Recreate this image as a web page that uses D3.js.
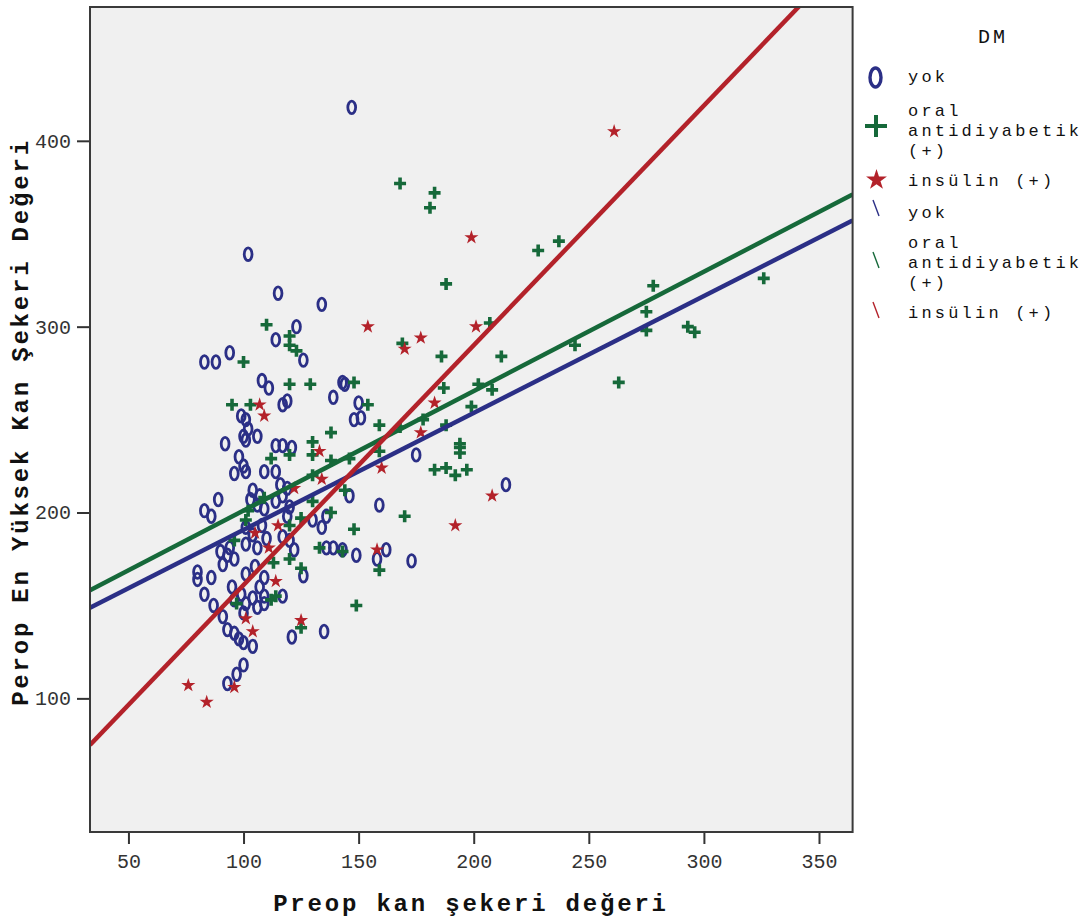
<html lang="en">
<head>
<meta charset="UTF-8">
<style>
  body { margin:0; background:#fff; }
  svg text { font-family: "Liberation Mono", "DejaVu Sans Mono", monospace; }
</style>
</head>
<body>
<div id="chart"></div>
<script src="https://d3js.org/d3.v7.min.js"></script>
<script>
// groups (DM)
const groups = ["yok", "oral antidiyabetik (+)", "insülin (+)"];
const colors = ["#2b2f86", "#16693a", "#b3222a"];

// x = Preop kan şekeri, y = Perop en yüksek kan şekeri
const yok = [[147,418],[102,339],[115,318],[134,312],[123,300],[114,293],[126,282],[83,281],[88,281],[94,286],
  [108,271],[111,267],[143,270],[144,269],[139,262],[119,260],[117,258],[150,259],[148,250],[151,251],
  [99,252],[101,250],[102,245],[100,241],[106,241],[101,239],[92,237],[114,236],[117,236],[121,235],
  [98,230],[100,225],[101,222],[96,221],[109,222],[114,222],[89,207],[83,201],[86,198],[104,212],
  [107,209],[103,207],[106,204],[109,202],[116,215],[119,213],[117,209],[114,206],[120,203],[119,198],
  [146,209],[159,204],[130,196],[134,192],[136,198],[90,179],[93,177],[96,175],[91,172],[94,181],
  [101,183],[106,181],[122,180],[136,181],[139,181],[143,180],[149,177],[162,180],[158,175],[80,168],
  [80,164],[86,165],[83,156],[87,150],[101,167],[105,171],[109,165],[107,160],[109,155],[104,154],
  [106,149],[109,151],[95,160],[99,156],[96,153],[101,151],[100,146],[126,166],[117,155],[91,144],
  [93,137],[96,135],[98,132],[100,130],[104,128],[121,133],[135,136],[100,118],[97,113],[93,108],
  [175,231],[214,215],[173,174],[101,192],[104,188],[108,193],[110,186],[117,187],[120,185]];

const oral = [[110,301],[120,295],[120,290],[123,287],[100,281],[120,269],[129,269],[148,270],[95,258],[103,258],
  [154,258],[159,247],[138,243],[130,238],[168,377],[183,372],[181,364],[188,323],[228,341],[237,346],
  [207,302],[169,291],[186,284],[212,284],[187,267],[202,269],[208,266],[244,290],[263,270],[199,257],
  [178,250],[188,247],[168,246],[194,237],[194,235],[194,232],[183,223],[188,224],[192,220],[197,223],
  [170,198],[278,322],[275,308],[275,298],[293,300],[296,297],[326,326],[112,229],[120,231],[130,231],
  [138,228],[146,229],[159,233],[109,208],[102,201],[101,196],[130,220],[130,206],[144,212],[138,200],
  [125,197],[120,193],[148,191],[133,181],[143,179],[96,185],[97,151],[120,175],[125,170],[113,173],
  [114,155],[112,153],[159,169],[149,150],[125,138]];

const insulin = [[154,300],[107,258],[109,252],[133,233],[160,224],[134,218],[122,213],[115,193],[105,189],
  [111,181],[158,180],[114,163],[101,143],[104,136],[125,142],[76,107],[84,98],[96,106],[261,405],
  [199,348],[201,300],[177,294],[170,288],[183,259],[177,243],[208,209],[192,193]];

// fit lines (intercept, slope) per group
const intercepts = [127.8, 136.8, 32];
const slopes = [0.629, 0.6426, 1.29];

const xTicks = [50, 100, 150, 200, 250, 300, 350];
const yTicks = [100, 200, 300, 400];

var W = 1085, H = 920;
var plot = {left: 90, right: 852.6, top: 7, bottom: 832};

var svg = d3.select("#chart").append("svg")
    .attr("width", W).attr("height", H);

var x = d3.scaleLinear().domain([33.3, 364.6]).range([plot.left, plot.right]);
var y = d3.scaleLinear().domain([28.1, 472]).range([plot.bottom, plot.top]);

svg.append("rect")
    .attr("x", plot.left).attr("y", plot.top)
    .attr("width", plot.right - plot.left).attr("height", plot.bottom - plot.top)
    .attr("fill", "#f0f0f0");

svg.append("clipPath").attr("id", "clip")
  .append("rect")
    .attr("x", plot.left).attr("y", plot.top)
    .attr("width", plot.right - plot.left).attr("height", plot.bottom - plot.top);

// axes
var xAxis = svg.append("g")
    .attr("transform", "translate(0," + plot.bottom + ")")
    .call(d3.axisBottom(x).tickValues(xTicks).tickSize(12).tickPadding(10).tickSizeOuter(0));
var yAxis = svg.append("g")
    .attr("transform", "translate(" + plot.left + ",0)")
    .call(d3.axisLeft(y).tickValues(yTicks).tickSize(13).tickPadding(6).tickSizeOuter(0));
[xAxis, yAxis].forEach(function(a) {
  a.select(".domain").remove();
  a.selectAll(".tick line").attr("stroke", "#333").attr("stroke-width", 2);
  a.selectAll(".tick text")
    .attr("fill", "#333")
    .style("font-family", "Liberation Mono")
    .style("font-size", "20px");
});

var g = svg.append("g").attr("clip-path", "url(#clip)");

// yok markers (0)
g.append("g").selectAll("ellipse")
  .data(yok).enter().append("ellipse")
    .attr("cx", function(d) { return x(d[0]); })
    .attr("cy", function(d) { return y(d[1]); })
    .attr("rx", 3.9).attr("ry", 6.3)
    .attr("fill", "none")
    .attr("stroke", colors[0])
    .attr("stroke-width", 2.8);

// oral markers (+)
function plusPath(cx, cy, r) {
  return "M" + (cx - r) + "," + cy + "H" + (cx + r) + "M" + cx + "," + (cy - r) + "V" + (cy + r);
}
g.append("g").selectAll("path")
  .data(oral).enter().append("path")
    .attr("d", function(d) { return plusPath(x(d[0]), y(d[1]), 6); })
    .attr("stroke", colors[1])
    .attr("stroke-width", 3.6);

// insulin markers (*)
var star = d3.symbol().type(d3.symbolStar).size(62);
g.append("g").selectAll("path")
  .data(insulin).enter().append("path")
    .attr("d", star)
    .attr("transform", function(d) { return "translate(" + x(d[0]) + "," + y(d[1]) + ")"; })
    .attr("fill", colors[2]);

// fit lines
var line = d3.line().x(function(d) { return x(d[0]); }).y(function(d) { return y(d[1]); });
groups.forEach(function(name, i) {
  var xs = x.domain();
  g.append("path")
    .attr("d", line(xs.map(function(v) { return [v, intercepts[i] + slopes[i] * v]; })))
    .attr("fill", "none")
    .attr("stroke", colors[i])
    .attr("stroke-width", 4.5);
});

// frame
svg.append("rect")
    .attr("x", plot.left).attr("y", plot.top)
    .attr("width", plot.right - plot.left).attr("height", plot.bottom - plot.top)
    .attr("fill", "none")
    .attr("stroke", "#3a3a3a")
    .attr("stroke-width", 2);

// axis titles
svg.append("text")
    .attr("x", 471).attr("y", 911)
    .attr("text-anchor", "middle")
    .style("font-size", "24px").style("font-weight", "bold")
    .style("letter-spacing", "2.8px")
    .attr("fill", "#111")
    .text("Preop kan şekeri değeri");
svg.append("text")
    .attr("transform", "translate(28,422) rotate(-90)")
    .attr("text-anchor", "middle")
    .style("font-size", "24px").style("font-weight", "bold")
    .style("letter-spacing", "2.8px")
    .attr("fill", "#111")
    .text("Perop En Yüksek Kan Şekeri Değeri");

// legend
var leg = svg.append("g");
var legText = { size: "17px", spacing: "3.2px" };
leg.append("text")
    .attr("x", 993).attr("y", 43)
    .attr("text-anchor", "middle")
    .style("font-size", "20px").style("letter-spacing", "3px")
    .attr("fill", "#111")
    .text("DM");

function legLabel(lines, baseY) {
  lines.forEach(function(t, k) {
    leg.append("text")
      .attr("x", 908).attr("y", baseY + k * 20)
      .style("font-size", legText.size).style("letter-spacing", legText.spacing)
      .attr("fill", "#111")
      .text(t);
  });
}
var labelLines = [["yok"], ["oral", "antidiyabetik", "(+)"], ["insülin (+)"]];

leg.append("ellipse")
    .attr("cx", 875.5).attr("cy", 77.5).attr("rx", 5.5).attr("ry", 9.5)
    .attr("fill", "none").attr("stroke", colors[0]).attr("stroke-width", 3.4);
legLabel(labelLines[0], 82);

leg.append("path")
    .attr("d", plusPath(876, 126, 11))
    .attr("stroke", colors[1]).attr("stroke-width", 4);
legLabel(labelLines[1], 116);

leg.append("path")
    .attr("d", d3.symbol().type(d3.symbolStar).size(135))
    .attr("transform", "translate(876.5,180)")
    .attr("fill", colors[2]);
legLabel(labelLines[2], 186);

var slashY = [208, 260, 310];
var slashBase = [218, 248, 318];
groups.forEach(function(name, i) {
  leg.append("line")
    .attr("x1", 873).attr("y1", slashY[i] - 8)
    .attr("x2", 879).attr("y2", slashY[i] + 8)
    .attr("stroke", colors[i]).attr("stroke-width", 1.4);
  legLabel(labelLines[i], slashBase[i]);
});
</script>
</body>
</html>
